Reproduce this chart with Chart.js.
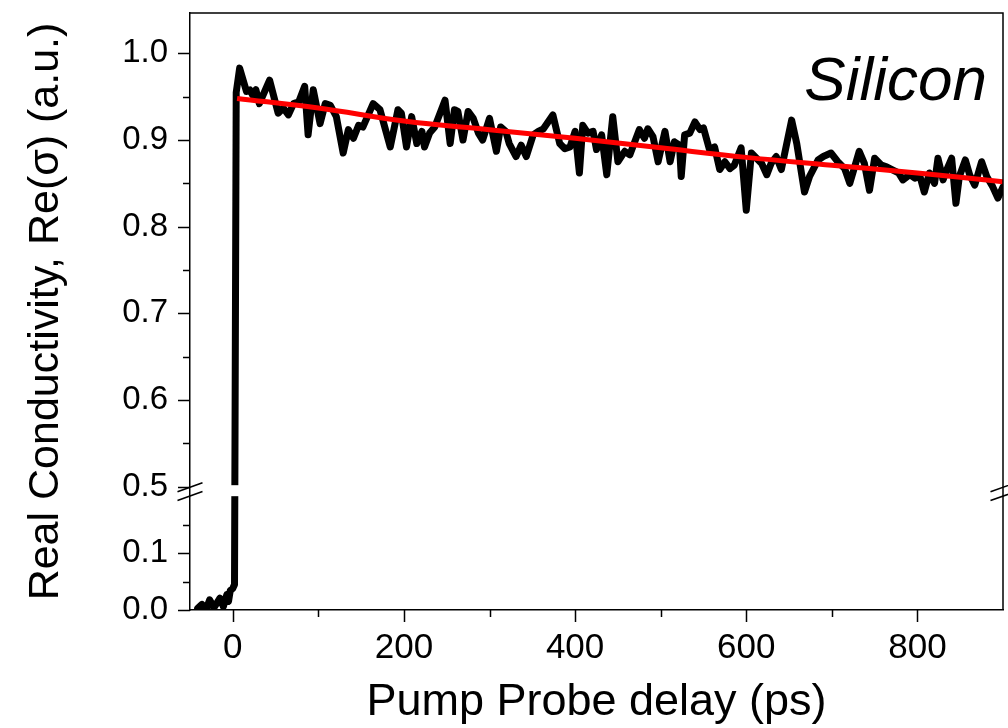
<!DOCTYPE html>
<html><head><meta charset="utf-8">
<script src="https://cdn.jsdelivr.net/npm/chart.js@4.4.1/dist/chart.umd.min.js"></script>
<style>html,body{margin:0;padding:0;background:#fff}canvas{display:block}</style>
</head><body>
<canvas id="c" width="1008" height="728"></canvas>
<script>
// ---- data ----
const delay = [
  -41,-36,-31,-27,-22,-15,-11,-7,-5,-3,
  0,2,4,8,16,20,23,27,31,43,
  53,59,65,71,77,84,88,94,102,108,
  114,121,129,135,141,147,152,164,172,184,
  193,197,203,209,215,221,224,230,236,248,
  254,259,263,269,275,281,287,292,300,308,
  313,319,323,331,337,343,351,357,363,374,
  382,388,394,400,405,409,415,421,425,431,
  437,444,450,458,464,475,481,485,491,497,
  505,511,516,522,524,528,534,540,546,550,
  557,563,569,575,581,586,594,600,606,612,
  618,624,629,635,641,653,659,668,674,684,
  690,699,707,715,721,732,738,744,750,758,
  764,772,778,783,791,797,803,808,814,820,
  824,830,834,840,845,849,856,861,867,875,
  881,888,894,900
];
const conductivity = [
  0.003,0.010,0.002,0.018,0.004,0.021,0.006,0.027,0.015,0.034,
  0.038,0.045,0.955,0.983,0.956,0.958,0.952,0.958,0.942,0.969,
  0.931,0.937,0.929,0.942,0.944,0.962,0.906,0.958,0.919,0.942,
  0.940,0.927,0.885,0.912,0.902,0.917,0.915,0.942,0.935,0.892,
  0.935,0.931,0.892,0.927,0.896,0.910,0.892,0.908,0.915,0.946,
  0.896,0.935,0.933,0.900,0.933,0.925,0.908,0.900,0.925,0.887,
  0.915,0.910,0.896,0.881,0.894,0.881,0.906,0.910,0.913,0.929,
  0.896,0.890,0.892,0.910,0.862,0.917,0.908,0.910,0.889,0.906,
  0.860,0.927,0.875,0.887,0.883,0.912,0.902,0.913,0.904,0.875,
  0.910,0.875,0.898,0.894,0.858,0.906,0.908,0.921,0.912,0.914,
  0.889,0.892,0.866,0.875,0.867,0.871,0.891,0.819,0.885,0.879,
  0.873,0.860,0.873,0.881,0.866,0.923,0.896,0.840,0.858,0.877,
  0.881,0.885,0.875,0.867,0.850,0.887,0.873,0.842,0.879,0.871,
  0.869,0.865,0.862,0.854,0.860,0.856,0.858,0.840,0.862,0.850,
  0.879,0.854,0.865,0.879,0.827,0.858,0.877,0.860,0.848,0.875,
  0.858,0.846,0.833,0.846
];
const fitDelay  = [5, 100, 200, 300, 400, 500, 600, 700, 800, 900];
const fitValues = [0.948, 0.937, 0.922, 0.912, 0.902, 0.891, 0.880, 0.871, 0.862, 0.852];

const xTickValues = [0, 100, 200, 300, 400, 500, 600, 700, 800];
const xTickLabels = ['0', '', '200', '', '400', '', '600', '', '800'];
const yTickValues = [0, 0.05, 0.1, 0.15, 0.5, 0.55, 0.6, 0.65, 0.7, 0.75, 0.8, 0.85, 0.9, 0.95, 1.0];
const yTickLabels = ['0.0', '', '0.1', '', '0.5', '', '0.6', '', '0.7', '', '0.8', '', '0.9', '', '1.0'];
const breakLow = 0.2, breakHigh = 0.5;
const xTitle = 'Pump Probe delay (ps)';
const yTitle = 'Real Conductivity, Re(\u03C3) (a.u.)';
const annotation = 'Silicon';

const FONT = "'Liberation Sans', Arial, Helvetica, sans-serif";

// ---- broken linear scale (piecewise mapping) ----
const F_LOW = 0.1898, F_GAP = 0.01675;
class BrokenLinearScale extends Chart.LinearScale {
  _toDecimal(v) {
    const fHigh = 1 - F_LOW - F_GAP, max = this.max;
    if (v <= breakLow) return v / breakLow * F_LOW;
    if (v < breakHigh) return F_LOW + (v - breakLow) / (breakHigh - breakLow) * F_GAP;
    return F_LOW + F_GAP + (v - breakHigh) / (max - breakHigh) * fHigh;
  }
  _fromDecimal(d) {
    const fHigh = 1 - F_LOW - F_GAP, max = this.max;
    if (d <= F_LOW) return d / F_LOW * breakLow;
    if (d < F_LOW + F_GAP) return breakLow + (d - F_LOW) / F_GAP * (breakHigh - breakLow);
    return breakHigh + (d - F_LOW - F_GAP) / fHigh * (max - breakHigh);
  }
  getPixelForValue(v) {
    if (v === null || v === undefined || isNaN(v)) return NaN;
    return this.getPixelForDecimal(this._toDecimal(v));
  }
  getValueForPixel(p) {
    return this._fromDecimal(this.getDecimalForPixel(p));
  }
}
BrokenLinearScale.id = 'brokenLinear';
BrokenLinearScale.defaults = Chart.LinearScale.defaults;
Chart.register(BrokenLinearScale);

const xMinor = v => xTickLabels[xTickValues.indexOf(v)] === '';
const yMinor = v => yTickLabels[yTickValues.indexOf(v)] === '';

const framePlugin = {
  id: 'frame',
  afterDatasetsDraw(chart) {
    const {ctx, chartArea: a, scales: {x, y}} = chart;
    ctx.save();
    // gap in the data line at the axis break
    const gTop = y.getPixelForValue(breakHigh) - 1.5;
    const gBot = y.getPixelForValue(breakLow) - 0.5;
    ctx.fillStyle = '#fff';
    ctx.fillRect(a.left + 1, gTop, a.right - a.left - 2, gBot - gTop);
    // top and right frame
    ctx.strokeStyle = '#000';
    ctx.lineWidth = 1.5;
    ctx.beginPath();
    ctx.moveTo(a.left, a.top); ctx.lineTo(a.right, a.top); ctx.lineTo(a.right, a.bottom);
    ctx.stroke();
    // tick marks
    ctx.beginPath();
    xTickValues.forEach(v => {
      const px = Math.round(x.getPixelForValue(v)) + 0.5;
      ctx.moveTo(px, a.bottom); ctx.lineTo(px, a.bottom + (xMinor(v) ? 7 : 12));
    });
    yTickValues.forEach(v => {
      const py = Math.round(y.getPixelForValue(v)) + 0.5;
      ctx.moveTo(a.left, py); ctx.lineTo(a.left - (yMinor(v) ? 7 : 12), py);
    });
    ctx.stroke();
    // break marks on left and right axes
    const mid = (y.getPixelForValue(breakHigh) + y.getPixelForValue(breakLow)) / 2;
    ctx.lineWidth = 1.6;
    ctx.beginPath();
    [a.left, a.right].forEach(ax => {
      [-4.4, 4.4].forEach(off => {
        ctx.moveTo(ax - 12.5, mid + off + 4.5);
        ctx.lineTo(ax + 12.5, mid + off - 4.5);
      });
    });
    ctx.stroke();
    // annotation
    ctx.fillStyle = '#000';
    ctx.font = 'italic 62px ' + FONT;
    ctx.textAlign = 'right';
    ctx.textBaseline = 'alphabetic';
    ctx.fillText(annotation, a.right - 16, a.top + 87);
    ctx.restore();
  }
};

new Chart(document.getElementById('c'), {
  type: 'line',
  data: {
    datasets: [
      {
        label: 'Data',
        data: delay.map((d, i) => ({x: d, y: conductivity[i]})),
        borderColor: '#000',
        borderWidth: 7,
        pointRadius: 0,
        tension: 0,
        borderJoinStyle: 'round',
        borderCapStyle: 'round',
        order: 2
      },
      {
        label: 'Fit',
        data: fitDelay.map((d, i) => ({x: d, y: fitValues[i]})),
        borderColor: '#ff0000',
        borderWidth: 5,
        pointRadius: 0,
        tension: 0.4,
        order: 1
      }
    ]
  },
  options: {
    responsive: false,
    animation: false,
    events: [],
    layout: {padding: {left: 0, right: 5, top: 13, bottom: 0}},
    plugins: {legend: {display: false}, tooltip: {enabled: false}},
    scales: {
      x: {
        type: 'linear',
        min: -50, max: 900,
        afterBuildTicks: s => { s.ticks = xTickValues.map(v => ({value: v})); },
        afterFit: s => { s.height = 118; s.paddingLeft = 0; s.paddingRight = 0; },
        ticks: {
          autoSkip: false, maxRotation: 0, padding: 5, color: '#000',
          font: {family: FONT, size: 35},
          callback: (v, i) => xTickLabels[i]
        },
        grid: {drawOnChartArea: false, drawTicks: true, tickLength: 12, tickColor: 'rgba(0,0,0,0)'},
        border: {display: true, color: '#000', width: 1.5},
        title: {display: true, text: xTitle, color: '#000', font: {family: FONT, size: 45}, padding: {top: 0, bottom: -2}}
      },
      y: {
        type: 'brokenLinear',
        min: 0, max: 1.0466,
        afterBuildTicks: s => { s.ticks = yTickValues.map(v => ({value: v})); },
        afterFit: s => { s.width = 190; s.paddingTop = 0; s.paddingBottom = 0; },
        ticks: {
          autoSkip: false, padding: 10, color: '#000',
          font: {family: FONT, size: 33},
          callback: (v, i) => yTickLabels[i]
        },
        grid: {drawOnChartArea: false, drawTicks: true, tickLength: 12, tickColor: 'rgba(0,0,0,0)'},
        border: {display: true, color: '#000', width: 1.5},
        title: {display: true, text: yTitle, color: '#000', font: {family: FONT, size: 43}, padding: {top: 20, bottom: 0}}
      }
    }
  },
  plugins: [framePlugin]
});
</script>
</body></html>
